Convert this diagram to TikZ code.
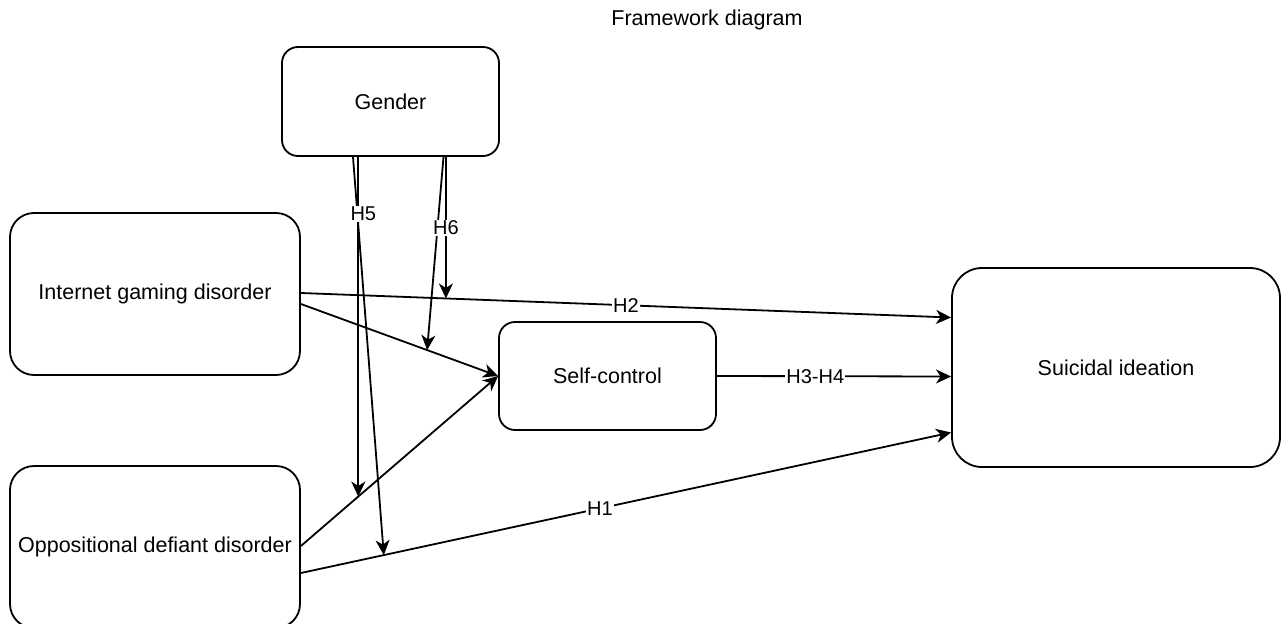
\documentclass[tikz,border=0pt]{standalone}
\usepackage{fontspec}
\setmainfont{Liberation Sans}
\usetikzlibrary{arrows.meta}

\tikzset{
  box/.style={draw, line width=1.8pt, fill=white, align=center, inner sep=0pt,
    font=\fontsize{21.5}{26}\selectfont},
  link/.style={line width=1.8pt, -{Stealth[length=15pt, width=14pt, inset=4.5pt]}},
  tag/.style={fill=white, inner sep=1pt, font=\fontsize{20}{24}\selectfont},
}

\begin{document}
\begin{tikzpicture}[x=1pt, y=-1pt]
  \useasboundingbox (0,0) rectangle (1283,624);

  % title
  \node[font=\fontsize{21.5}{26}\selectfont] (title) at (707,20) {Framework diagram};

  % constructs
  \node[box, minimum width=217pt, minimum height=109pt, rounded corners=16pt]
    (gender) at (390.5,101.5) {Gender};
  \node[box, minimum width=290pt, minimum height=162pt, rounded corners=24pt]
    (igd) at (155,294) {Internet gaming disorder};
  \node[box, minimum width=290pt, minimum height=162pt, rounded corners=24pt]
    (odd) at (155,547) {Oppositional defiant disorder};
  \node[box, minimum width=217pt, minimum height=108pt, rounded corners=16pt]
    (self) at (607.5,376) {Self-control};
  \node[box, minimum width=328pt, minimum height=199pt, rounded corners=30pt]
    (sui) at (1116,367.5) {Suicidal ideation};

  % direct and mediated paths
  \draw[link] ([yshift=1pt]igd.east) -- coordinate[pos=0.223] (h6a)
    node[tag, pos=0.5] {H2} ([yshift=50pt]sui.west);
  \draw[link] ([yshift=-10pt]igd.east) -- coordinate[pos=0.64] (h6b) (self.west);
  \draw[link] ([yshift=1pt]odd.east) -- coordinate[pos=0.291] (h5a) (self.west);
  \draw[link] ([yshift=-26pt]odd.east) -- coordinate[pos=0.1275] (h5b)
    node[tag, pos=0.46] {H1} ([yshift=-65pt]sui.west);
  \draw[link] (self.east) -- node[tag, pos=0.42] {H3-H4} ([yshift=-9pt]sui.west);

  % moderation by gender
  \draw[link] ([xshift=-37.5pt]gender.south) -- (h5b);
  \draw[link] ([xshift=53pt]gender.south) -- (h6b);
  \draw[link] (gender.south -| h5a) -- node[tag, pos=0.167, xshift=5pt] {H5} (h5a);
  \draw[link] (gender.south -| h6a) -- node[tag, pos=0.5] {H6} (h6a);
\end{tikzpicture}
\end{document}
